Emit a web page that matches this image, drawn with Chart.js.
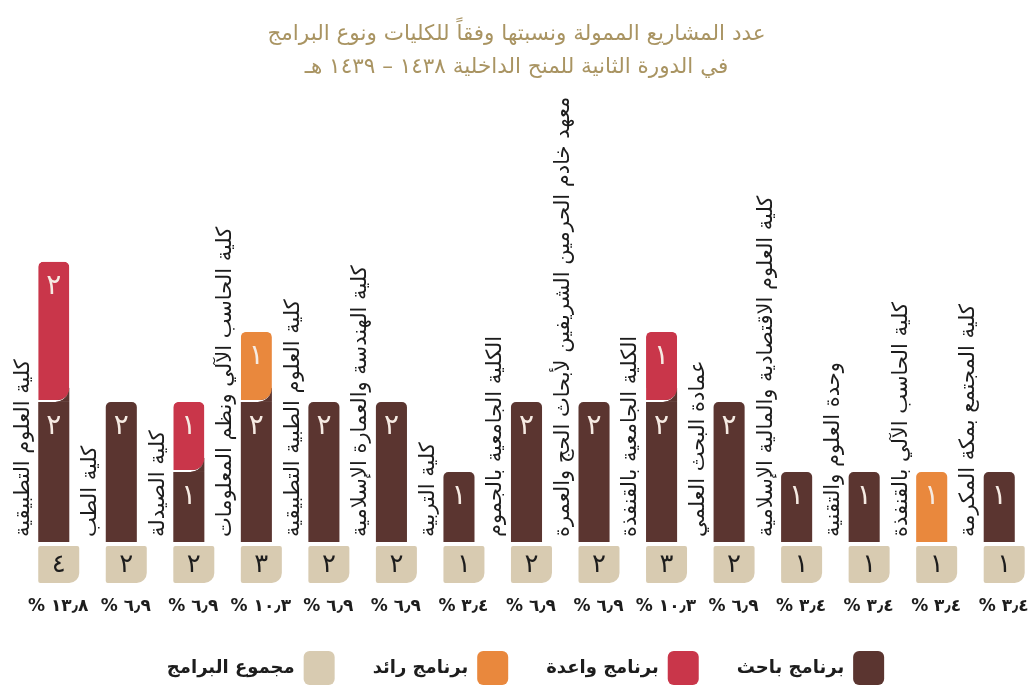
<!DOCTYPE html>
<html lang="ar">
<head>
<meta charset="utf-8">
<script src="https://cdn.jsdelivr.net/npm/chart.js@4.4.1/dist/chart.umd.min.js"></script>
<style>
    html, body { margin: 0; padding: 0; background: #fff; }
    #wrap { width: 1033px; height: 695px; }
</style>
</head>
<body>
<div id="wrap"><canvas id="barChart" dir="rtl"></canvas></div>
<script>
var categories = [
    "كلية العلوم التطبيقية",
    "كلية الطب",
    "كلية الصيدلة",
    "كلية الحاسب الآلي ونظم المعلومات",
    "كلية العلوم الطبية التطبيقية",
    "كلية الهندسة والعمارة الإسلامية",
    "كلية التربية",
    "الكلية الجامعية بالجموم",
    "معهد خادم الحرمين الشريفين لأبحاث الحج والعمرة",
    "الكلية الجامعية بالقنفذة",
    "عمادة البحث العلمي",
    "كلية العلوم الاقتصادية والمالية الإسلامية",
    "وحدة العلوم والتقنية",
    "كلية الحاسب الآلي بالقنفذة",
    "كلية المجتمع بمكة المكرمة"
];
var researcher = [2, 2, 1, 2, 2, 2, 1, 2, 2, 2, 2, 1, 1, 0, 1]; // برنامج باحث
var promising  = [2, 0, 1, 0, 0, 0, 0, 0, 0, 1, 0, 0, 0, 0, 0]; // برنامج واعدة
var pioneer    = [0, 0, 0, 1, 0, 0, 0, 0, 0, 0, 0, 0, 0, 1, 0]; // برنامج رائد
var totals     = [4, 2, 2, 3, 2, 2, 1, 2, 2, 3, 2, 1, 1, 1, 1]; // مجموع البرامج
var percents   = [13.8, 6.9, 6.9, 10.3, 6.9, 6.9, 3.4, 6.9, 6.9, 10.3, 6.9, 3.4, 3.4, 3.4, 3.4];
var seriesNames = ["برنامج باحث", "برنامج واعدة", "برنامج رائد", "مجموع البرامج"];
var titleLines = [
    "عدد المشاريع الممولة ونسبتها وفقاً للكليات ونوع البرامج",
    "في الدورة الثانية للمنح الداخلية ١٤٣٨ – ١٤٣٩ هـ"
];

var BROWN = "#5b3530";
var RED = "#c9364a";
var ORANGE = "#e9883d";
var BEIGE = "#d8cbb1";
var GOLD = "#a99462";
var CREAM = "#f6ebe3";
var INK = "#1d1d1d";
var FONT = "'DejaVu Sans', sans-serif";

var arDigits = "٠١٢٣٤٥٦٧٨٩";
function toArabic(n) {
    return String(n).replace(/[0-9]/g, (d) => arDigits[d]).replace(".", "٫");
}

// segment on top of a brown one gets a rounded bottom-right notch
function topRadius(ctx) {
    var i = ctx.dataIndex;
    if (i === undefined) return 0;
    return { topLeft: 5, topRight: 5, bottomLeft: 0, bottomRight: researcher[i] ? 14 : 0 };
}
function topBorder(ctx) {
    var i = ctx.dataIndex;
    if (i === undefined) return 0;
    return { top: 0, left: 0, right: 0, bottom: researcher[i] ? 2 : 0 };
}

var decorPlugin = {
    id: "decor",
    afterLayout(chart) {
        // the legend sits a little right of centre in the original
        chart.legend.left += 9;
        chart.legend.right += 9;
    },
    beforeDatasetDraw(chart, args) {
        if (args.index === 0) return;
        var ctx = chart.ctx;
        var values = chart.data.datasets[args.index].data;
        ctx.save();
        ctx.fillStyle = BROWN;
        args.meta.data.forEach((bar, i) => {
            if (!values[i] || !researcher[i]) return;
            ctx.fillRect(bar.x + bar.width / 2 - 14, bar.base - 14, 14, 14);
        });
        ctx.restore();
    },
    afterDatasetsDraw(chart) {
        var ctx = chart.ctx;
        var base = chart.scales.y.getPixelForValue(0);
        ctx.save();

        // numbers inside the segments
        ctx.font = "28px " + FONT;
        ctx.fillStyle = CREAM;
        ctx.textAlign = "center";
        ctx.textBaseline = "middle";
        ctx.direction = "ltr";
        chart.data.datasets.forEach((ds, di) => {
            chart.getDatasetMeta(di).data.forEach((bar, i) => {
                if (!ds.data[i]) return;
                ctx.fillText(toArabic(ds.data[i]), bar.x, bar.y + 25);
            });
        });

        var bars = chart.getDatasetMeta(0).data;
        categories.forEach((cat, i) => {
            var left = bars[i].x - bars[i].width / 2;

            // total box
            ctx.fillStyle = BEIGE;
            ctx.beginPath();
            ctx.roundRect(left, base + 4, 41, 37, [2, 2, 10, 2]);
            ctx.fill();
            ctx.fillStyle = INK;
            ctx.font = "26px " + FONT;
            ctx.textAlign = "center";
            ctx.direction = "ltr";
            ctx.fillText(toArabic(totals[i]), left + 20.5, base + 23);

            // percentage
            ctx.font = "bold 17px " + FONT;
            ctx.fillText("% " + toArabic(percents[i]), left + 20, base + 65);

            // rotated category label
            ctx.save();
            ctx.translate(left - 15, base - 5);
            ctx.rotate(-Math.PI / 2);
            ctx.font = "21px " + FONT;
            ctx.fillStyle = INK;
            ctx.textAlign = "left";
            ctx.direction = "rtl";
            ctx.fillText(cat, 0, 0);
            ctx.restore();
        });
        ctx.restore();
    }
};

var ctx = document.getElementById("barChart").getContext("2d");
new Chart(ctx, {
    type: "bar",
    data: {
        labels: categories,
        datasets: [
            {
                label: seriesNames[0],
                data: researcher,
                backgroundColor: BROWN,
                borderWidth: 0,
                borderRadius: (c) => {
                    var i = c.dataIndex;
                    if (i === undefined) return 0;
                    return (promising[i] || pioneer[i]) ? 0 : { topLeft: 5, topRight: 5, bottomLeft: 0, bottomRight: 0 };
                },
                borderSkipped: false,
            },
            {
                label: seriesNames[1],
                data: promising,
                backgroundColor: RED,
                borderColor: "#ffffff",
                borderWidth: topBorder,
                borderRadius: topRadius,
                borderSkipped: false,
            },
            {
                label: seriesNames[2],
                data: pioneer,
                backgroundColor: ORANGE,
                borderColor: "#ffffff",
                borderWidth: topBorder,
                borderRadius: topRadius,
                borderSkipped: false,
            },
        ],
    },
    options: {
        maintainAspectRatio: false,
        responsive: true,
        animation: false,
        layout: { padding: { top: 6, left: 0, right: 0, bottom: 0 } },
        datasets: { bar: { categoryPercentage: 1, barPercentage: 0.46 } },
        scales: {
            x: {
                stacked: true,
                ticks: { display: false },
                grid: { display: false },
                border: { display: false },
                afterFit: (s) => { s.height = 71; },
            },
            y: {
                stacked: true,
                min: 0,
                max: 6,
                ticks: { display: false },
                grid: { display: false },
                border: { display: false },
                afterFit: (s) => { s.width = 20; },
            },
        },
        plugins: {
            tooltip: { enabled: false },
            title: {
                display: true,
                text: titleLines,
                color: GOLD,
                font: { family: FONT, size: 21.5, weight: "normal", lineHeight: 1.53 },
                padding: { top: 12, bottom: 38 },
            },
            legend: {
                position: "bottom",
                rtl: true,
                textDirection: "rtl",
                labels: {
                    color: INK,
                    font: { family: FONT, size: 18, weight: "bold" },
                    boxWidth: 31,
                    boxHeight: 34,
                    padding: 38,
                    useBorderRadius: true,
                    borderRadius: 6,
                    generateLabels: function (chart) {
                        var items = Chart.defaults.plugins.legend.labels.generateLabels(chart);
                        items.forEach((it) => {
                            it.lineWidth = 0;
                            it.strokeStyle = it.fillStyle;
                        });
                        items.push({
                            text: seriesNames[3],
                            fillStyle: BEIGE,
                            strokeStyle: BEIGE,
                            lineWidth: 0,
                            hidden: false,
                            borderRadius: 6,
                            fontColor: INK,
                        });
                        return items;
                    },
                },
            },
        },
    },
    plugins: [decorPlugin],
});
</script>
</body>
</html>
